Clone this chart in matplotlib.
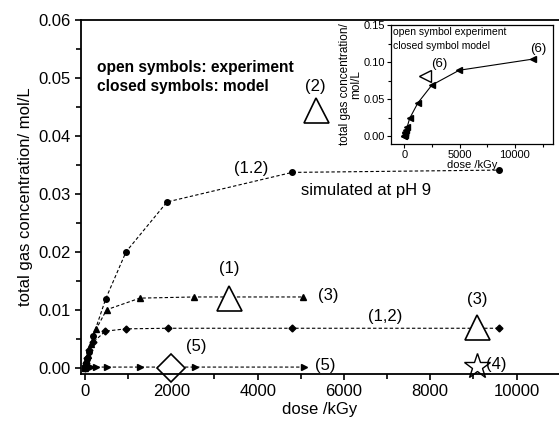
import numpy as np
import matplotlib
matplotlib.use("Agg")
import matplotlib.pyplot as plt
from matplotlib.ticker import MultipleLocator

plt.rcParams['font.family'] = ['Liberation Sans', 'DejaVu Sans']

# model curves (closed symbols)
dose_a = [0, 20, 50, 80, 185, 480, 950, 1900, 4800, 9600]
conc_a = [0, 0.0008, 0.0015, 0.0027, 0.0054, 0.0119, 0.0200, 0.0286, 0.0337, 0.0341]

dose_b = [0, 25, 60, 130, 260, 500, 1270, 2530, 5060]
conc_b = [0, 0.0009, 0.0021, 0.0040, 0.0067, 0.0100, 0.0120, 0.0122, 0.0122]

dose_c = [0, 20, 50, 100, 190, 470, 950, 1920, 4800, 9600]
conc_c = [0, 0.0008, 0.0017, 0.0030, 0.0044, 0.0063, 0.0067, 0.0068, 0.0068, 0.0068]

dose_d = [0, 20, 60, 130, 255, 510, 1270, 2540, 5080]
conc_d = [0, 0.00005, 0.0001, 0.0001, 0.0001, 0.0001, 0.0001, 0.0001, 0.0001]

# experiments (open symbols)
exp_tri_dose = [5350, 3340, 9090]
exp_tri_conc = [0.0445, 0.0121, 0.0070]
exp_dia_dose = [2000]
exp_dia_conc = [0.0]
exp_star_dose = [9090]
exp_star_conc = [0.0002]

# inset
ins_dose = [0, 10, 25, 50, 100, 150, 250, 480, 1230, 2490, 4960, 11600]
ins_conc = [0, 0.001, 0.002, 0.004, 0.006, 0.009, 0.012, 0.024, 0.045, 0.069, 0.089, 0.104]
ins_exp_dose = [1890]
ins_exp_conc = [0.081]

fig = plt.figure(figsize=(5.59, 4.26), dpi=100)
ax = fig.add_axes([0.145, 0.122, 0.855, 0.831])

ls = dict(color='black', linestyle='--', linewidth=0.8, dashes=(3, 2))
ax.plot(dose_a, conc_a, marker='o', markersize=4, **ls)
ax.plot(dose_b, conc_b, marker='^', markersize=4, **ls)
ax.plot(dose_c, conc_c, marker='D', markersize=3.5, **ls)
ax.plot(dose_d, conc_d, marker='>', markersize=4, **ls)

ax.plot(exp_tri_dose, exp_tri_conc, linestyle='none', marker='^', markersize=18,
        markerfacecolor='white', markeredgecolor='black', markeredgewidth=1.2)
ax.plot(exp_dia_dose, exp_dia_conc, linestyle='none', marker='D', markersize=14,
        markerfacecolor='white', markeredgecolor='black', markeredgewidth=1.2, clip_on=False)
ax.plot(exp_star_dose, exp_star_conc, linestyle='none', marker='*', markersize=19,
        markerfacecolor='white', markeredgecolor='black', markeredgewidth=1.0, clip_on=False)

ax.set_xlim(-93, 10985)
ax.set_ylim(-0.0011, 0.06)
ax.xaxis.set_major_locator(MultipleLocator(2000))
ax.xaxis.set_minor_locator(MultipleLocator(1000))
ax.yaxis.set_major_locator(MultipleLocator(0.01))
ax.yaxis.set_minor_locator(MultipleLocator(0.005))
ax.yaxis.set_major_formatter(plt.FormatStrFormatter('%.2f'))
ax.tick_params(which='both', direction='out', width=1.2, labelsize=12)
ax.tick_params(which='major', length=4)
ax.tick_params(which='minor', length=3.5)
ax.spines['right'].set_visible(False)
for s in ['left', 'bottom', 'top']:
    ax.spines[s].set_linewidth(1.3)
ax.set_xlabel('dose /kGy', fontsize=12, labelpad=2)
ax.set_ylabel('total gas concentration/ mol/L', fontsize=12, labelpad=4)

ax.text(280, 0.0518, 'open symbols: experiment', fontsize=11.2, fontweight='bold', va='center')
ax.text(280, 0.0485, 'closed symbols: model', fontsize=11.2, fontweight='bold', va='center')

tk = dict(fontsize=12, ha='center', va='center')
ax.text(3840, 0.0344, '(1.2)', **tk)
ax.text(5340, 0.0485, '(2)', **tk)
ax.text(3340, 0.0172, '(1)', **tk)
ax.text(5640, 0.0125, '(3)', **tk)
ax.text(6950, 0.0088, '(1,2)', **tk)
ax.text(9090, 0.0118, '(3)', **tk)
ax.text(2580, 0.0036, '(5)', **tk)
ax.text(5560, 0.0003, '(5)', **tk)
ax.text(9520, 0.0005, '(4)', **tk)
ax.text(5000, 0.0305, 'simulated at pH 9', fontsize=12, ha='left', va='center')

ins = fig.add_axes([0.6995, 0.662, 0.289, 0.2793])
ins.plot(ins_dose, ins_conc, color='black', linewidth=0.8, marker='<', markersize=4)
ins.plot(ins_exp_dose, ins_exp_conc, linestyle='none', marker='<', markersize=8,
         markerfacecolor='white', markeredgecolor='black', markeredgewidth=1.0)
ins.set_xlim(-1200, 13400)
ins.set_ylim(-0.0104, 0.15)
ins.xaxis.set_major_locator(MultipleLocator(5000))
ins.xaxis.set_minor_locator(MultipleLocator(2500))
ins.yaxis.set_major_locator(MultipleLocator(0.05))
ins.yaxis.set_minor_locator(MultipleLocator(0.025))
ins.yaxis.set_major_formatter(plt.FormatStrFormatter('%.2f'))
ins.tick_params(which='both', direction='out', width=0.8, labelsize=8, pad=1.5)
ins.tick_params(which='major', length=3)
ins.tick_params(which='minor', length=2)
for s in ins.spines.values():
    s.set_linewidth(0.9)
ins.set_xlabel('dose /kGy', fontsize=8, labelpad=0)
ins.set_ylabel('total gas concentration/\nmol/L', fontsize=8.5, labelpad=1, linespacing=0.9)
ins.text(-1000, 0.140, 'open symbol experiment', fontsize=7.5, va='center')
ins.text(-1000, 0.122, 'closed symbol model', fontsize=7.5, va='center')
ins.text(3200, 0.098, '(6)', fontsize=9.5, ha='center', va='center')
ins.text(12100, 0.118, '(6)', fontsize=9.5, ha='center', va='center')

fig.savefig('out.png', dpi=100)
